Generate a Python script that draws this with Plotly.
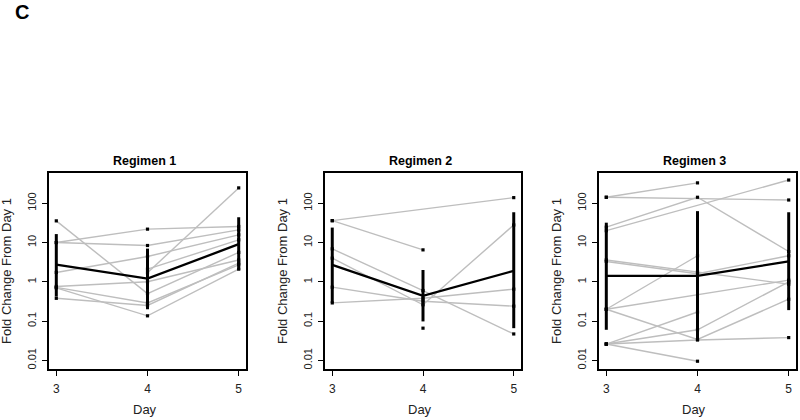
import plotly.graph_objects as go

days = [3, 4, 5]

# Individual subject trajectories (fold change from day 1); None = missing
reg1_subjects = [
    [35.6, 0.5, 5.6],
    [10.0, 21.9, 25.6],
    [10.0, 8.4, 21.0],
    [1.73, 4.4, 15.7],
    [0.76, 1.0, 3.6],
    [0.72, 0.29, 2.7],
    [0.70, 0.136, 2.1],
    [0.38, 0.25, 3.0],
    [None, 1.7, 246.0],
    [None, 2.1, 11.7],
]
reg1_mean = [2.75, 1.2, 9.1]
reg1_low = [0.42, 0.2, 2.0]
reg1_high = [16.4, 7.0, 44.0]

reg2_subjects = [
    [36.0, None, 139.0],
    [36.0, 6.5, None],
    [6.9, 0.6, 0.047],
    [4.0, 0.26, 28.0],
    [0.73, 0.32, 0.24],
    [0.29, 0.38, 0.65],
    [None, 0.066, None],
]
reg2_mean = [2.7, 0.44, 1.9]
reg2_low = [0.29, 0.098, 0.066]
reg2_high = [24.0, 2.0, 59.0]

reg3_subjects = [
    [142.0, 330.0, None],
    [142.0, None, 121.0],
    [24.6, 142.0, 5.9],
    [20.0, None, 390.0],
    [3.6, 1.8, 0.87],
    [3.3, 1.6, 4.6],
    [0.2, 4.6, None],
    [0.2, 0.034, 0.36],
    [0.2, None, 1.1],
    [0.026, 0.0095, None],
    [0.026, 0.033, 0.038],
    [0.026, 0.06, 1.0],
    [0.026, 0.17, None],
]
reg3_mean = [1.42, 1.42, 3.3]
reg3_low = [0.06, 0.033, 0.19]
reg3_high = [32.0, 63.0, 59.0]

titles = ["Regimen 1", "Regimen 2", "Regimen 3"]
ytick_vals = [0.01, 0.1, 1, 10, 100]
ytick_text = ["0.01", "0.1", "1", "10", "100"]
xtick_vals = [3, 4, 5]

panels = [
    (reg1_subjects, reg1_mean, reg1_low, reg1_high),
    (reg2_subjects, reg2_mean, reg2_low, reg2_high),
    (reg3_subjects, reg3_mean, reg3_low, reg3_high),
]

W, H = 800, 420
x_domains = [(49 / W, 246 / W), (325 / W, 521 / W), (599 / W, 796 / W)]
y_domain = (1 - 369 / H, 1 - 173 / H)

FONT = "Liberation Sans, Arial, sans-serif"
GREY = "#bebebe"

fig = go.Figure()
layout = dict(
    width=W, height=H,
    margin=dict(l=0, r=0, t=0, b=0),
    paper_bgcolor="white", plot_bgcolor="white",
    showlegend=False,
    font=dict(family=FONT, color="#222", size=12),
)
annotations = []

for i, (subs, mean, low, high) in enumerate(panels):
    xa = "x" if i == 0 else f"x{i+1}"
    ya = "y" if i == 0 else f"y{i+1}"
    # grey subject lines
    for s in subs:
        fig.add_trace(go.Scatter(x=days, y=s, mode="lines", xaxis=xa, yaxis=ya,
                                 connectgaps=True,
                                 line=dict(color=GREY, width=1.4), hoverinfo="skip"))
    # error bars
    ex, ey = [], []
    for d, lo, hi in zip(days, low, high):
        ex += [d, d, None]
        ey += [lo, hi, None]
    fig.add_trace(go.Scatter(x=ex, y=ey, mode="lines", xaxis=xa, yaxis=ya,
                             line=dict(color="black", width=3), hoverinfo="skip"))
    # mean line
    fig.add_trace(go.Scatter(x=days, y=mean, mode="lines", xaxis=xa, yaxis=ya,
                             line=dict(color="black", width=2.3), hoverinfo="skip"))
    # points
    px, py = [], []
    for s in subs:
        for d, v in zip(days, s):
            if v is not None:
                px.append(d)
                py.append(v)
    fig.add_trace(go.Scatter(x=px, y=py, mode="markers", xaxis=xa, yaxis=ya,
                             marker=dict(color="black", size=3.2, symbol="square"),
                             hoverinfo="skip"))

    xkey = "xaxis" if i == 0 else f"xaxis{i+1}"
    ykey = "yaxis" if i == 0 else f"yaxis{i+1}"
    layout[xkey] = dict(
        domain=list(x_domains[i]), anchor=ya, range=[2.92, 5.08],
        tickvals=xtick_vals, ticktext=[str(v) for v in xtick_vals],
        ticks="outside", ticklen=5, tickwidth=1.2, tickcolor="black",
        showline=True, mirror=True, linecolor="black", linewidth=1.5,
        showgrid=False, zeroline=False,
        tickfont=dict(family=FONT, size=12, color="#222"),
        ticklabelstandoff=3,
    )
    layout[ykey] = dict(
        domain=list(y_domain), anchor=xa, type="log", range=[-2.22, 2.77],
        tickvals=ytick_vals, ticktext=ytick_text, tickangle=-90,
        ticks="outside", ticklen=5, tickwidth=1.2, tickcolor="black",
        showline=True, mirror=True, linecolor="black", linewidth=1.5,
        showgrid=False, zeroline=False,
        tickfont=dict(family=FONT, size=11, color="#222"),
        ticklabelstandoff=2,
    )
    x0, x1 = x_domains[i]
    annotations.append(dict(text=f"<b>{titles[i]}</b>", x=(x0 + x1) / 2 - 3 / W, y=1 - 161 / H,
                            xref="paper", yref="paper", showarrow=False,
                            xanchor="center", yanchor="middle",
                            font=dict(family=FONT, size=12.5, color="black")))
    annotations.append(dict(text="Day", x=(x0 + x1) / 2 - 3 / W, y=1 - 409 / H,
                            xref="paper", yref="paper", showarrow=False,
                            xanchor="center", yanchor="middle",
                            font=dict(family=FONT, size=13, color="#222")))
    annotations.append(dict(text="Fold Change From Day 1", x=x0 - 42 / W, y=(y_domain[0] + y_domain[1]) / 2,
                            xref="paper", yref="paper", showarrow=False, textangle=-90,
                            xanchor="center", yanchor="middle",
                            font=dict(family=FONT, size=13, color="#222")))

annotations.append(dict(text="<b>C</b>", x=22 / W, y=1 - 12 / H, xref="paper", yref="paper",
                        showarrow=False, xanchor="center", yanchor="middle",
                        font=dict(family=FONT, size=20, color="black")))
layout["annotations"] = annotations
fig.update_layout(**layout)
fig.write_html("out.html",
               config={"displayModeBar": False},
               post_script="document.body.style.margin='0';document.body.style.padding='0';"
                           "document.body.style.overflow='hidden';")
